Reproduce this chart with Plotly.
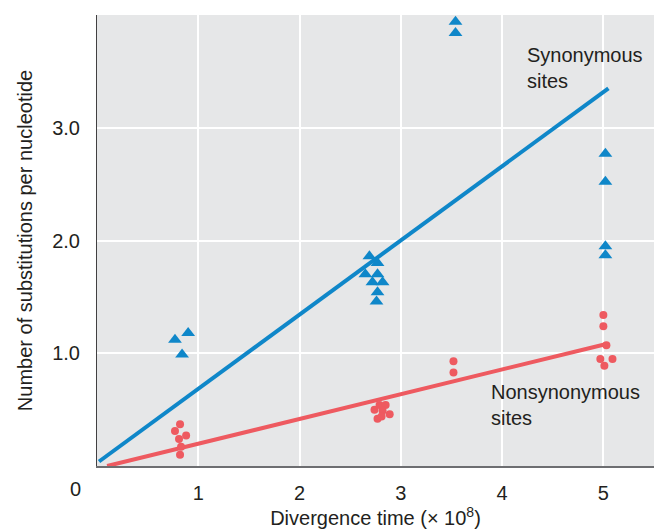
import plotly.graph_objects as go

# Synonymous sites (blue triangles)
syn_x = [0.77, 0.90, 0.84,
         2.69, 2.77, 2.65, 2.77, 2.72, 2.82, 2.77, 2.76,
         3.54, 3.54,
         5.02, 5.02, 5.02, 5.02]
syn_y = [1.12, 1.18, 0.99,
         1.86, 1.80, 1.70, 1.70, 1.63, 1.63, 1.54, 1.46,
         3.94, 3.84,
         2.77, 2.52, 1.95, 1.87]

# Nonsynonymous sites (red circles)
non_x = [0.82, 0.77, 0.88, 0.81, 0.83, 0.82,
         2.74, 2.79, 2.85, 2.82, 2.89, 2.77, 2.81,
         3.52, 3.52,
         5.00, 5.00, 5.03, 4.97, 5.09, 5.01]
non_y = [0.37, 0.31, 0.27, 0.24, 0.17, 0.10,
         0.50, 0.54, 0.54, 0.49, 0.46, 0.42, 0.44,
         0.93, 0.83,
         1.34, 1.24, 1.07, 0.95, 0.95, 0.89]

# Regression lines
syn_line_x = [0.02, 5.05]
syn_line_y = [0.04, 3.35]
non_line_x = [0.10, 5.02]
non_line_y = [0.00, 1.08]

x_ticks = [1, 2, 3, 4, 5]
y_ticks = [1.0, 2.0, 3.0]
y_tick_labels = ["1.0", "2.0", "3.0"]

BLUE = "#0f87c9"
RED = "#ee5a60"
TXT = "#231f20"
FONT = "Liberation Sans, Arial, sans-serif"

fig = go.Figure()
fig.add_trace(go.Scatter(x=syn_line_x, y=syn_line_y, mode="lines",
                         line=dict(color=BLUE, width=4), hoverinfo="skip"))
fig.add_trace(go.Scatter(x=non_line_x, y=non_line_y, mode="lines",
                         line=dict(color=RED, width=4), hoverinfo="skip"))
fig.add_trace(go.Scatter(x=syn_x, y=syn_y, mode="markers",
                         marker=dict(symbol="triangle-up", size=12, color=BLUE)))
fig.add_trace(go.Scatter(x=non_x, y=non_y, mode="markers",
                         marker=dict(symbol="circle", size=8, color=RED)))

fig.add_annotation(x=4.23, y=3.53, xref="x", yref="y", xanchor="left", yanchor="middle",
                   text="Synonymous<br>sites", showarrow=False, align="left",
                   font=dict(family=FONT, size=20, color=TXT))
fig.add_annotation(x=3.87, y=0.54, xref="x", yref="y", xanchor="left", yanchor="middle",
                   text="Nonsynonymous<br>sites", showarrow=False, align="left",
                   font=dict(family=FONT, size=20, color=TXT))
fig.add_annotation(x=-0.0386, y=-0.05, xref="paper", yref="paper",
                   xanchor="center", yanchor="middle",
                   text="0", showarrow=False,
                   font=dict(family=FONT, size=20, color=TXT))

fig.update_layout(
    template="none",
    width=656, height=531,
    margin=dict(l=97, r=2, t=15, b=65, autoexpand=False),
    paper_bgcolor="white",
    plot_bgcolor="#e6e7e8",
    showlegend=False,
    font=dict(family=FONT, color=TXT),
    xaxis=dict(range=[0, 5.5], tickvals=x_ticks, ticktext=[str(v) for v in x_ticks],
               showgrid=True, gridcolor="white", gridwidth=2, zeroline=False,
               showline=True, linecolor="#6d6e71", linewidth=2, automargin=False,
               ticks="", ticklabelstandoff=8,
               tickfont=dict(family=FONT, size=20, color=TXT),
               title=dict(text="Divergence time (× 10<sup>8</sup>)", standoff=8,
                          font=dict(family=FONT, size=20, color=TXT))),
    yaxis=dict(range=[0, 4.0], tickvals=y_ticks, ticktext=y_tick_labels,
               showgrid=True, gridcolor="white", gridwidth=2, zeroline=False,
               showline=True, linecolor="#414042", linewidth=1, automargin=False,
               ticks="", ticklabelstandoff=12,
               tickfont=dict(family=FONT, size=20, color=TXT),
               title=dict(text="Number of substitutions per nucleotide", standoff=14,
                          font=dict(family=FONT, size=20, color=TXT))),
)

fig.write_html("out.html",
               config={"displayModeBar": False},
               post_script="document.body.style.margin='0';document.body.style.overflow='hidden';")
